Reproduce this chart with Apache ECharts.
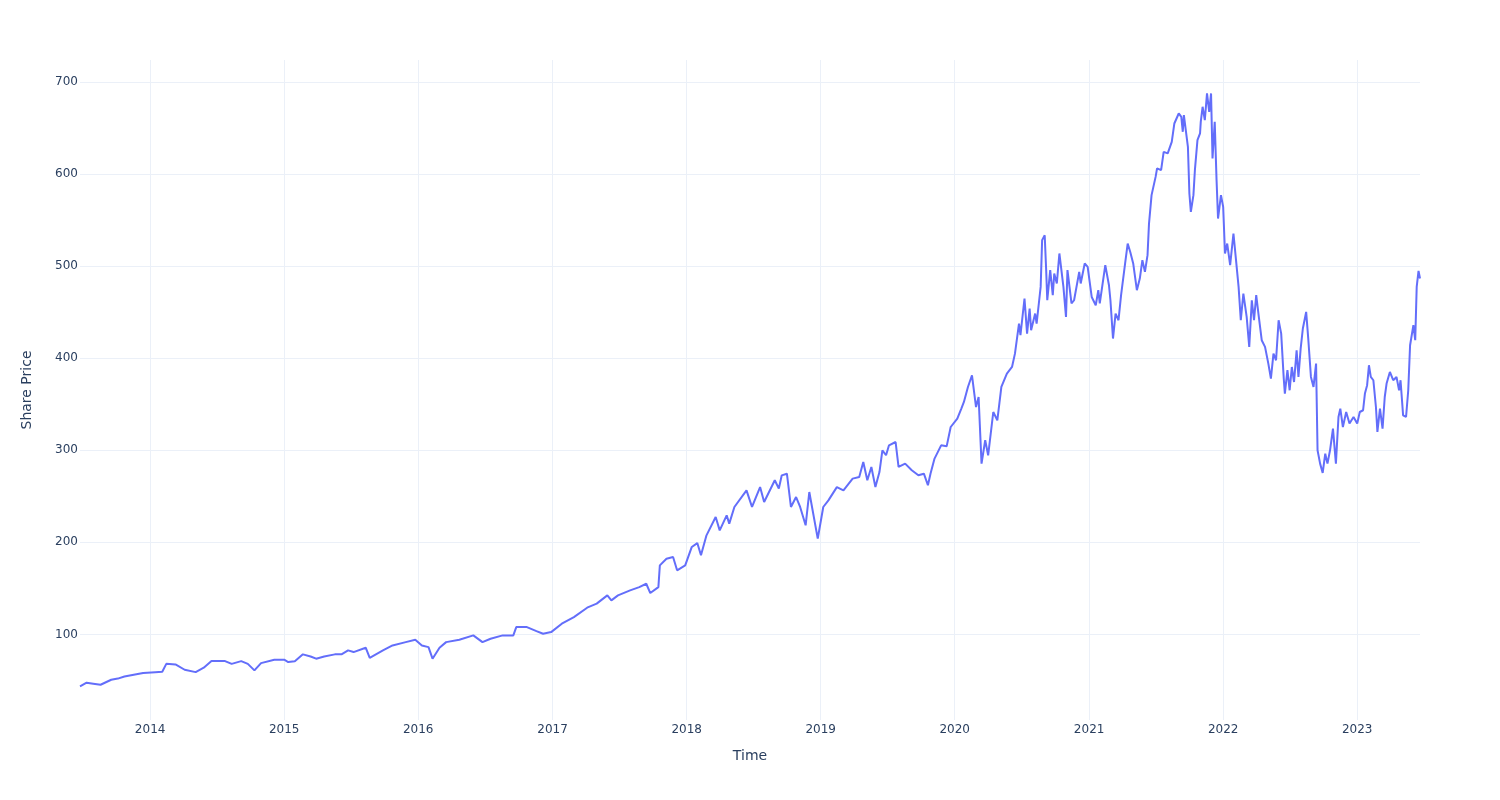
<!DOCTYPE html>
<html>
<head>
<meta charset="utf-8">
<script src="https://cdn.jsdelivr.net/npm/echarts@6/dist/echarts.min.js"></script>
<style>html,body{margin:0;padding:0;background:#fff;}#chart{width:1500px;height:800px;}</style>
</head>
<body>
<div id="chart"></div>
<script>
const dates = [
"2013-06-24","2013-07-12","2013-07-30","2013-08-19","2013-09-17","2013-10-05","2013-10-23","2013-11-21","2013-12-13",
"2014-01-15","2014-02-03","2014-02-14","2014-03-11","2014-04-05","2014-05-05","2014-05-27","2014-06-17","2014-07-24","2014-08-11","2014-09-06","2014-09-24","2014-10-12","2014-10-30","2014-12-05",
"2015-01-01","2015-01-12","2015-01-30","2015-02-21","2015-03-14","2015-03-29","2015-04-20","2015-05-19","2015-06-06","2015-06-24","2015-07-09","2015-08-11","2015-08-22","2015-09-27","2015-10-23","2015-11-28","2015-12-24",
"2016-01-11","2016-01-29","2016-02-09","2016-02-28","2016-03-17","2016-04-22","2016-05-30","2016-06-24","2016-07-16","2016-08-18","2016-09-16","2016-09-24","2016-10-23","2016-11-18","2016-12-06","2016-12-28",
"2017-01-26","2017-02-28","2017-04-05","2017-05-01","2017-05-30","2017-06-10","2017-06-28","2017-07-31","2017-08-25","2017-09-13","2017-09-24","2017-10-16","2017-10-20","2017-11-07","2017-11-25","2017-12-06","2017-12-28",
"2018-01-15","2018-01-30","2018-02-09","2018-02-24","2018-03-21","2018-04-01","2018-04-20","2018-04-27","2018-05-11","2018-06-13","2018-06-28","2018-07-20","2018-07-31","2018-08-29","2018-09-09","2018-09-17","2018-10-01","2018-10-12","2018-10-26","2018-11-06","2018-11-21","2018-12-01","2018-12-24",
"2019-01-08","2019-01-22","2019-02-14","2019-03-04","2019-03-29","2019-04-16","2019-04-27","2019-05-08","2019-05-19","2019-05-30","2019-06-10","2019-06-18","2019-06-28","2019-07-06","2019-07-24","2019-08-01","2019-08-19","2019-09-06","2019-09-24","2019-10-09","2019-10-20","2019-10-27","2019-11-07","2019-11-25","2019-12-10","2019-12-21",
"2020-01-08","2020-01-19","2020-01-26","2020-02-06","2020-02-17","2020-02-28","2020-03-06","2020-03-14","2020-03-24","2020-04-01","2020-04-15","2020-04-26","2020-05-07","2020-05-22","2020-06-05","2020-06-13","2020-06-24","2020-06-28","2020-07-09","2020-07-16","2020-07-23","2020-07-27","2020-08-07","2020-08-11","2020-08-18","2020-08-22","2020-08-26","2020-09-02","2020-09-06","2020-09-09","2020-09-17","2020-09-24","2020-09-28","2020-10-05","2020-10-12","2020-10-23","2020-10-30","2020-11-03","2020-11-14","2020-11-21","2020-12-05","2020-12-09","2020-12-20","2020-12-28",
"2021-01-08","2021-01-19","2021-01-26","2021-01-30","2021-02-14","2021-02-24","2021-02-28","2021-03-07","2021-03-14","2021-03-22","2021-03-29","2021-04-09","2021-04-16","2021-04-23","2021-05-01","2021-05-11","2021-05-19","2021-05-26","2021-06-02","2021-06-09","2021-06-13","2021-06-20","2021-07-01","2021-07-05","2021-07-16","2021-07-23","2021-08-03","2021-08-14","2021-08-21","2021-09-02","2021-09-09","2021-09-13","2021-09-16","2021-09-27","2021-10-01","2021-10-05","2021-10-12","2021-10-16","2021-10-23","2021-10-30","2021-11-01","2021-11-06","2021-11-12","2021-11-18","2021-11-24","2021-11-29","2021-12-03","2021-12-09","2021-12-14","2021-12-18","2021-12-26",
"2022-01-01","2022-01-06","2022-01-12","2022-01-20","2022-01-29","2022-02-05","2022-02-12","2022-02-18","2022-02-25","2022-03-06","2022-03-13","2022-03-20","2022-03-26","2022-04-01","2022-04-07","2022-04-16","2022-04-25","2022-05-04","2022-05-11","2022-05-18","2022-05-25","2022-06-01","2022-06-08","2022-06-15","2022-06-18","2022-06-25","2022-07-01","2022-07-07","2022-07-13","2022-07-20","2022-07-25","2022-07-31","2022-08-06","2022-08-15","2022-08-21","2022-08-28","2022-09-04","2022-09-11","2022-09-15","2022-09-22","2022-09-29","2022-10-06","2022-10-12","2022-10-19","2022-10-27","2022-11-04","2022-11-11","2022-11-16","2022-11-23","2022-12-02","2022-12-11","2022-12-22",
"2023-01-01","2023-01-08","2023-01-17","2023-01-22","2023-01-28","2023-02-02","2023-02-07","2023-02-14","2023-02-21","2023-02-25","2023-03-04","2023-03-11","2023-03-17","2023-03-22","2023-03-31","2023-04-09","2023-04-18","2023-04-25","2023-04-29","2023-05-06","2023-05-14","2023-05-20","2023-05-25","2023-06-03","2023-06-08","2023-06-12","2023-06-17","2023-06-21"
];
const prices = [
43.5,47.5,46.5,45.3,50.7,52,54.3,56.5,58,
59,59.5,68,67.4,61.6,59,63.8,71,71,68,71,68,60.9,68.8,72.5,
72.5,70,70.7,78.3,76,73.6,76,78.3,78.3,82.6,80.8,85.5,74.6,82.6,88,91.6,94.2,
88,86.2,73.6,85.5,91.6,94.2,98.9,91.6,95.3,98.9,98.9,107.9,107.9,103.6,100.7,102.5,
111.6,118.8,129,133.4,142.4,137,142.4,147.8,151.4,155,144.9,151.4,175,182.2,184,169.6,175,
195,199.2,185.9,207.6,227.5,213,229.3,220.3,238.4,256.5,238.4,260,243.8,267.4,258.4,272.8,274.6,238.4,249.2,238.4,218.5,254.7,204,
238.4,245.6,260,256.5,269.2,271,287.3,267.4,281.9,260,276.4,300,294.6,305.4,309,281.9,285.5,278.3,272.8,274.6,262,274.6,291,305.4,304.3,325.3,
334.4,345.3,352.5,368.8,381.5,347,357.9,285.5,310.9,294.6,341.6,332.6,368.8,383.3,390.5,405,437.7,425,464.9,426.8,453.9,430.4,448.5,437.7,463,477.5,528.3,533.7,495.7,463,495.7,468.5,492,481.2,513.8,477.5,444.9,495.7,459.5,463,493.8,481.2,503,499.3,
466.6,457.6,473.9,459.5,501.1,479.3,463,421.4,448.5,441.3,468.5,503,524.6,515.5,503,473.9,486.6,506.5,493.8,512,546,577.2,597,606.2,604.3,624.2,622.5,635.1,655,665.9,662.3,646,664.1,629.7,579,559,577.2,604.3,637,644.2,656.8,673.2,658.7,687.7,667.7,687.7,617,656.8,593.5,551.8,577.2,
564.5,513.8,524.6,501.1,535.5,506.5,477.5,441.3,470.3,444.9,412.3,463,441.3,468.5,448.5,419.6,412.3,394.2,377.9,405,397.8,441.3,426.8,377.9,361.6,387,365.2,390.5,374.2,408.7,379.7,410.5,432.3,450.3,419.6,379.7,368.8,394.2,300,285.5,275.4,296.4,285.5,300,323.6,285.5,336.2,345.3,325.3,341.6,329,336.2,
329,341.6,343.5,361.6,370.7,392.4,379.7,376.1,347,319.9,345.3,323.6,357.9,372.5,385.1,376.1,379.7,365.2,376.1,338,336.2,365.2,414.1,435.9,419.6,477.5,494.9,486.6
];
const yTicks = [100,200,300,400,500,600,700];
const xTickYears = [2014,2015,2016,2017,2018,2019,2020,2021,2022,2023];

const toTime = s => Date.parse(s + 'T00:00:00Z');
const seriesData = dates.map((d, i) => [toTime(d), prices[i]]);
const xTickValues = xTickYears.map(y => Date.UTC(y, 0, 1));
const chart = echarts.init(document.getElementById('chart'), null, {renderer: 'canvas'});
const FONT = 'DejaVu Sans';
chart.setOption({
  animation: false,
  backgroundColor: '#ffffff',
  grid: {left: 80, right: 80, top: 60, bottom: 80, containLabel: false},
  xAxis: {
    type: 'value',
    min: toTime(dates[0]),
    max: toTime(dates[dates.length - 1]),
    name: 'Time',
    nameLocation: 'middle',
    nameGap: 29,
    nameTextStyle: {fontFamily: FONT, fontSize: 14, color: '#2a3f5f'},
    axisLine: {show: false},
    axisTick: {show: false, customValues: xTickValues},
    axisLabel: {fontFamily: FONT, fontSize: 12, color: '#2a3f5f', margin: 4,
      customValues: xTickValues,
      formatter: function (v) { return String(new Date(v).getUTCFullYear()); }},
    splitLine: {show: true, lineStyle: {color: '#EBF0F8', width: 1}}
  },
  yAxis: {
    type: 'value',
    min: 7,
    max: 724,
    name: 'Share Price',
    nameLocation: 'middle',
    nameGap: 46,
    nameTextStyle: {fontFamily: FONT, fontSize: 14, color: '#2a3f5f'},
    axisLine: {show: false},
    axisTick: {show: false, customValues: yTicks},
    axisLabel: {fontFamily: FONT, fontSize: 12, color: '#2a3f5f', margin: 2,
      customValues: yTicks,
      formatter: function (v) { return String(v); }},
    splitLine: {show: true, lineStyle: {color: '#EBF0F8', width: 1}}
  },
  series: [{
    type: 'line',
    data: seriesData,
    showSymbol: false,
    symbol: 'none',
    lineStyle: {color: '#636efa', width: 2},
    itemStyle: {color: '#636efa'}
  }]
});
</script>
</body>
</html>
